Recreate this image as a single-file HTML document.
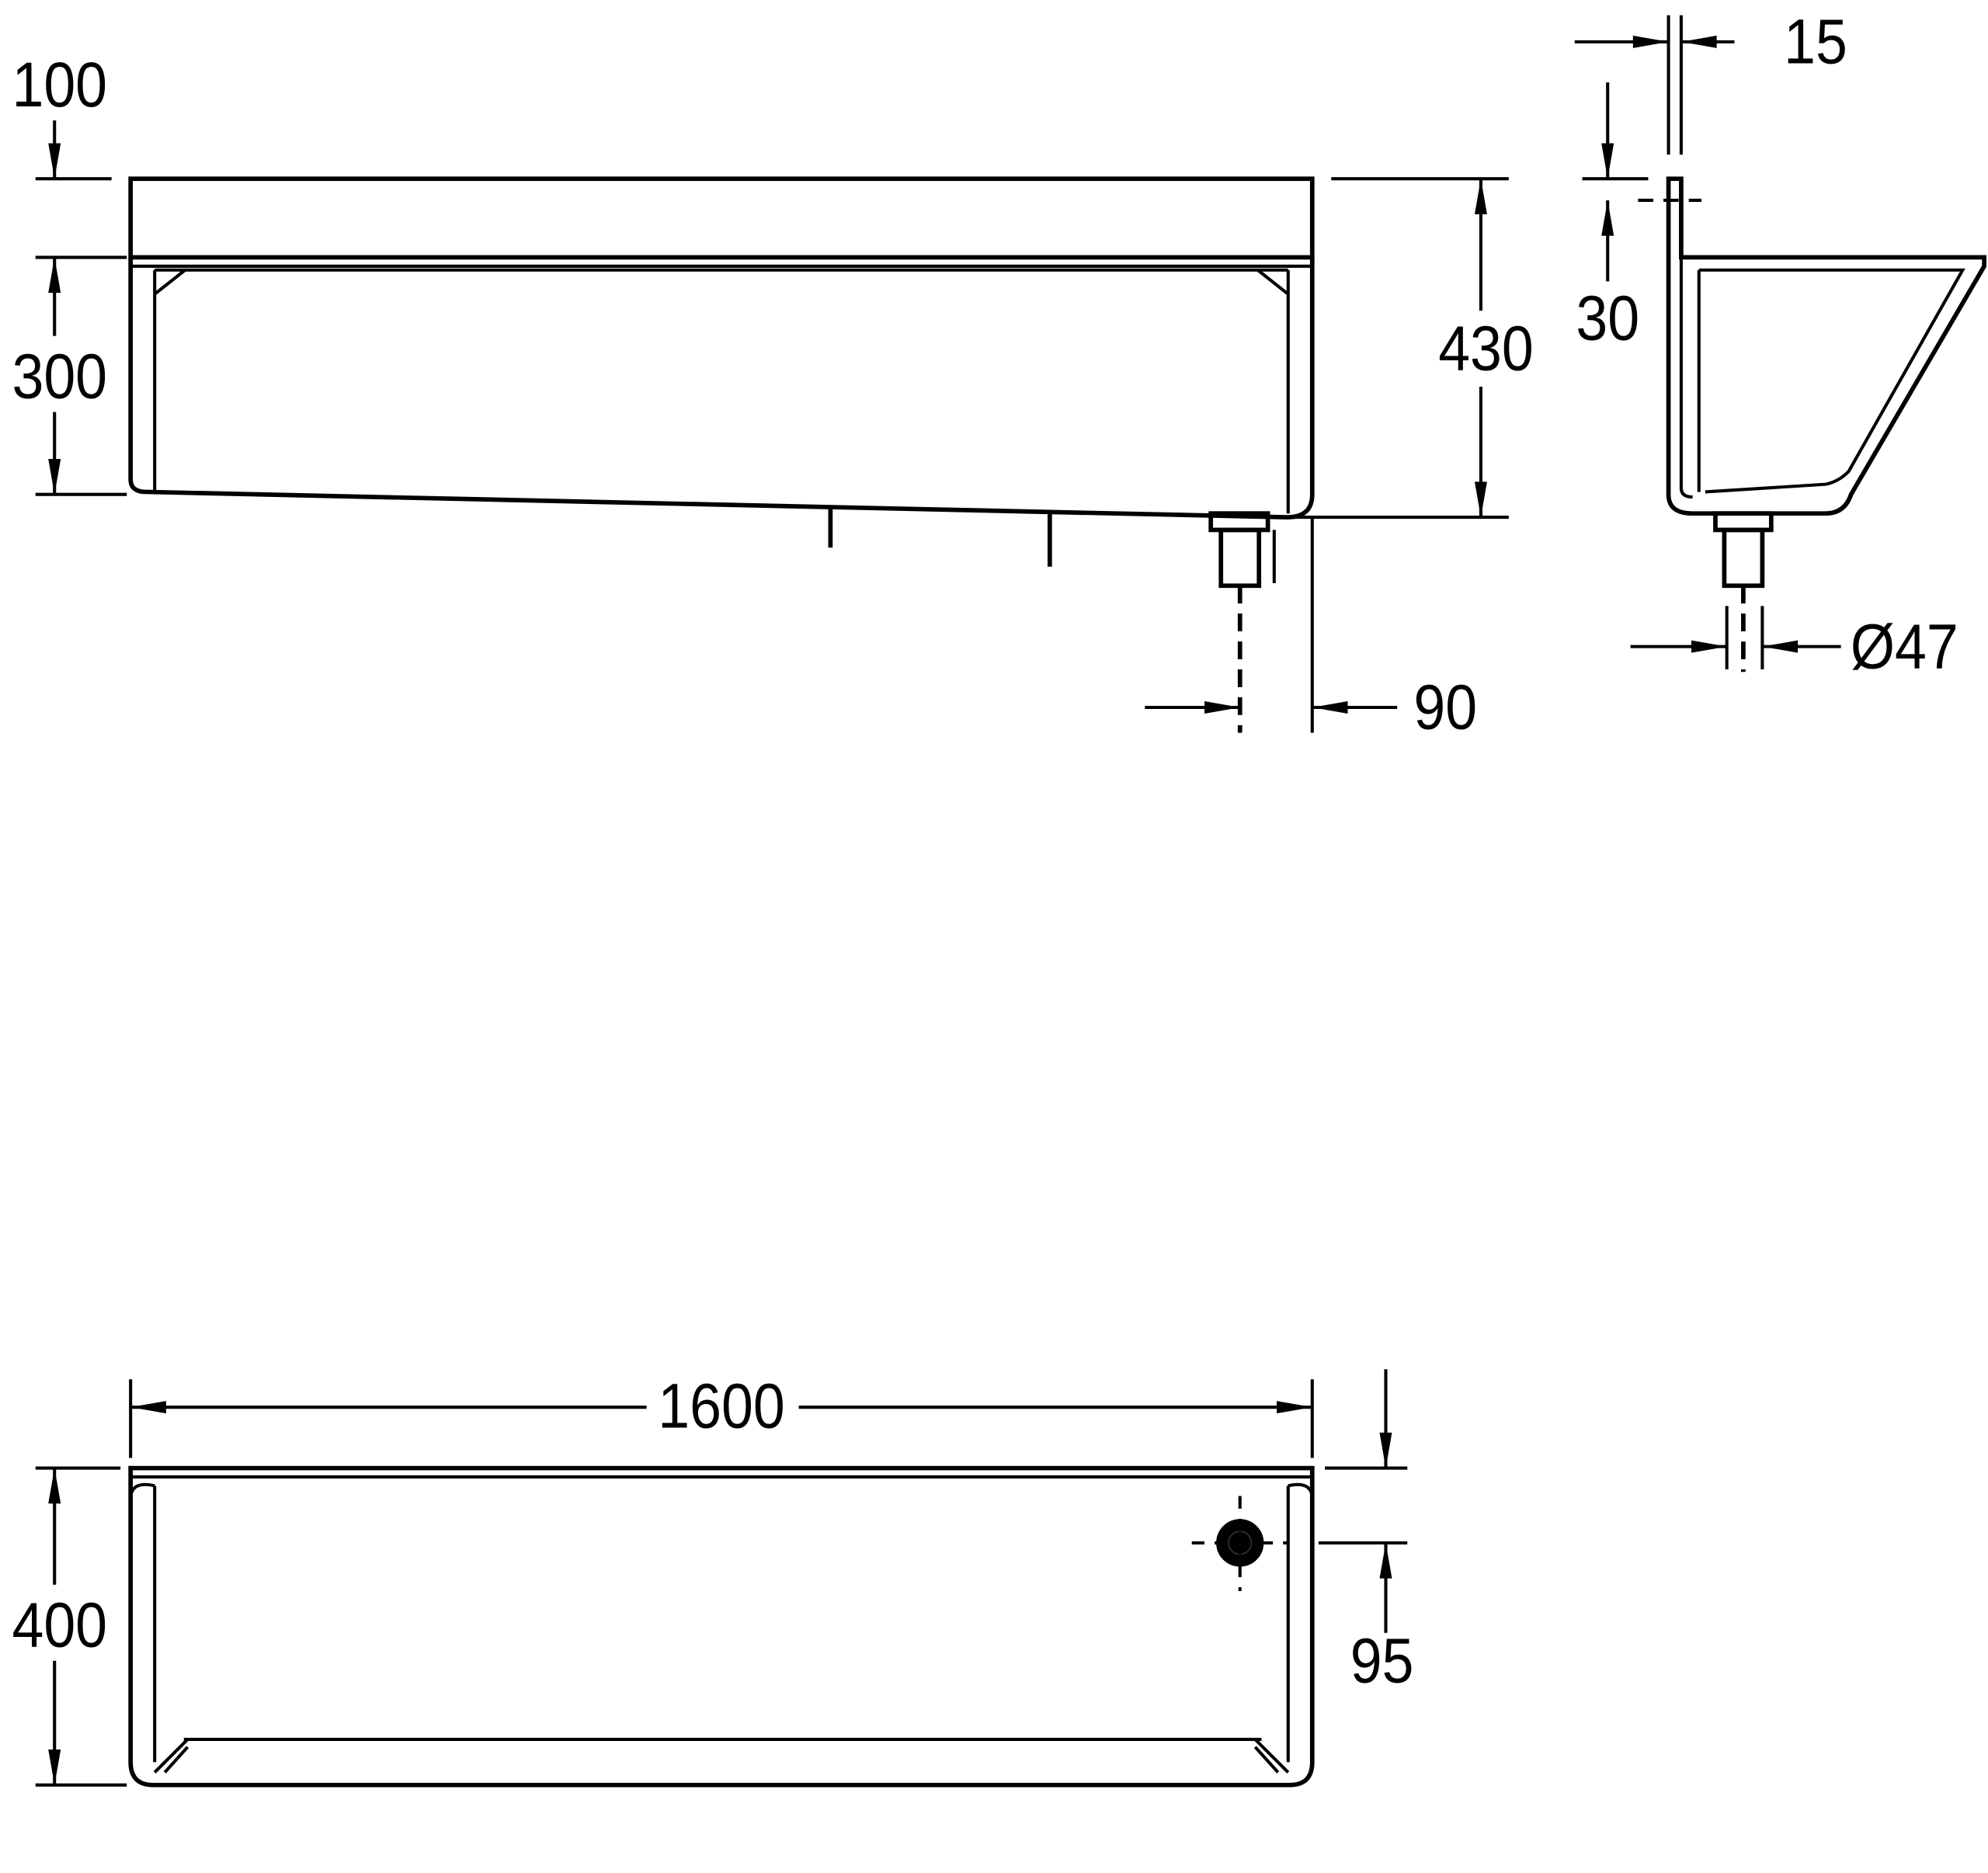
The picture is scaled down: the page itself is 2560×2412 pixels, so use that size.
<!DOCTYPE html>
<html><head><meta charset="utf-8"><style>
html,body{margin:0;padding:0;background:#fff;}
svg{display:block;}
text{font-family:"Liberation Sans",sans-serif;font-size:50px;fill:#000;}
</style></head><body>
<svg width="2560" height="2412" viewBox="0 0 1568 1477.4" preserveAspectRatio="none" xmlns="http://www.w3.org/2000/svg">
<defs>
<marker id="b" viewBox="0 0 20 10" refX="20" refY="5" markerWidth="34" markerHeight="14" markerUnits="userSpaceOnUse" orient="auto"><path d="M0,1.5 L20,5 L0,8.5 z" fill="#000"/></marker>
</defs>
<g fill="none" stroke="#000" stroke-width="3.5">
<!-- FRONT VIEW -->
<rect x="103" y="141" width="932" height="62"/>
<line x1="103" y1="210" x2="1035" y2="210" stroke-width="2.5"/>
<line x1="122" y1="213" x2="1016" y2="213" stroke-width="2.5"/>
<path d="M103,203 V378 Q103,388 115,388 L1015,408 Q1035,408 1035,390 V203"/>
<line x1="122" y1="213" x2="122" y2="388" stroke-width="2.5"/>
<line x1="1016" y1="213" x2="1016" y2="405" stroke-width="2.5"/>
<path d="M122,232 L146,213 M1016,232 L992,213" stroke-width="2.5"/>
<line x1="655" y1="400" x2="655" y2="432"/>
<line x1="828" y1="404" x2="828" y2="447"/>
<rect x="955" y="405" width="45" height="13"/>
<rect x="963" y="418" width="30" height="44"/>
<line x1="1005" y1="418" x2="1005" y2="460" stroke-width="2.5"/>
<line x1="978" y1="462" x2="978" y2="578" stroke-dasharray="14,8"/>
<line x1="1035" y1="408" x2="1035" y2="578" stroke-width="2.5"/>
<!-- dims front -->
<line x1="28" y1="141" x2="88" y2="141" stroke-width="2.5"/>
<line x1="28" y1="390" x2="100" y2="390" stroke-width="2.5"/>
<line x1="28" y1="203" x2="100" y2="203" stroke-width="2.5"/>
<line x1="43" y1="95" x2="43" y2="141" marker-end="url(#b)" stroke-width="2.5"/>
<line x1="43" y1="265" x2="43" y2="203" marker-end="url(#b)" stroke-width="2.5"/>
<line x1="43" y1="325" x2="43" y2="390" marker-end="url(#b)" stroke-width="2.5"/>
<line x1="1050" y1="141" x2="1190" y2="141" stroke-width="2.5"/>
<line x1="1020" y1="408" x2="1190" y2="408" stroke-width="2.5"/>
<line x1="1168" y1="245" x2="1168" y2="141" marker-end="url(#b)" stroke-width="2.5"/>
<line x1="1168" y1="305" x2="1168" y2="408" marker-end="url(#b)" stroke-width="2.5"/>
<line x1="903" y1="558" x2="978" y2="558" marker-end="url(#b)" stroke-width="2.5"/>
<line x1="1102" y1="558" x2="1035" y2="558" marker-end="url(#b)" stroke-width="2.5"/>
<!-- SIDE VIEW -->
<path d="M1316,141 H1326 V203 H1565 L1565,210 L1460,390 Q1455,405 1440,405 L1335,405 Q1316,405 1316,390 Z"/>
<path d="M1326,203 V385 Q1326,392 1335,392" stroke-width="2.5"/>
<path d="M1340,213 H1548 L1458,372 Q1450,380 1440,382 L1345,388" stroke-width="2.5"/>
<line x1="1340" y1="213" x2="1340" y2="388" stroke-width="2.5"/>
<rect x="1353" y="405" width="44" height="13"/>
<rect x="1360" y="418" width="30" height="44"/>
<line x1="1375" y1="462" x2="1375" y2="530" stroke-dasharray="14,8"/>
<line x1="1316" y1="12" x2="1316" y2="122" stroke-width="2.5"/>
<line x1="1326" y1="12" x2="1326" y2="122" stroke-width="2.5"/>
<line x1="1242" y1="33" x2="1316" y2="33" marker-end="url(#b)" stroke-width="2.5"/>
<line x1="1368" y1="33" x2="1326" y2="33" marker-end="url(#b)" stroke-width="2.5"/>
<line x1="1248" y1="141" x2="1300" y2="141" stroke-width="2.5"/>
<line x1="1292" y1="158" x2="1342" y2="158" stroke-dasharray="12,8" stroke-width="2.5"/>
<line x1="1268" y1="65" x2="1268" y2="141" marker-end="url(#b)" stroke-width="2.5"/>
<line x1="1268" y1="222" x2="1268" y2="158" marker-end="url(#b)" stroke-width="2.5"/>
<line x1="1362" y1="478" x2="1362" y2="528" stroke-width="2.5"/>
<line x1="1390" y1="478" x2="1390" y2="528" stroke-width="2.5"/>
<line x1="1286" y1="510" x2="1362" y2="510" marker-end="url(#b)" stroke-width="2.5"/>
<line x1="1452" y1="510" x2="1390" y2="510" marker-end="url(#b)" stroke-width="2.5"/>
<!-- PLAN VIEW -->
<path d="M103,1158 H1035 V1390 Q1035,1408 1017,1408 H121 Q103,1408 103,1390 Z"/>
<path d="M103,1165 H1035" stroke-width="2.5"/>
<path d="M122,1172 V1390 M1016,1172 V1390" stroke-width="2.5"/>
<path d="M103,1180 Q105,1168 122,1172 M1035,1180 Q1033,1168 1016,1172" stroke-width="2.5"/>
<line x1="145" y1="1372" x2="995" y2="1372" stroke-width="2.5"/>
<path d="M122,1398 L148,1372 M1016,1398 L990,1372 M130,1398 L148,1378 M1008,1398 L990,1378" stroke-width="2.5"/>
<circle cx="978" cy="1217" r="17" fill="#000"/>
<circle cx="978" cy="1217" r="9" stroke="#333" stroke-width="1"/>
<path d="M940,1217 H1016 M978,1180 V1255" stroke-dasharray="10,8" stroke-width="2.5"/>
<line x1="103" y1="1088" x2="103" y2="1150" stroke-width="2.5"/>
<line x1="1035" y1="1088" x2="1035" y2="1150" stroke-width="2.5"/>
<line x1="510" y1="1110" x2="103" y2="1110" marker-end="url(#b)" stroke-width="2.5"/>
<line x1="630" y1="1110" x2="1035" y2="1110" marker-end="url(#b)" stroke-width="2.5"/>
<line x1="28" y1="1158" x2="95" y2="1158" stroke-width="2.5"/>
<line x1="28" y1="1408" x2="100" y2="1408" stroke-width="2.5"/>
<line x1="43" y1="1250" x2="43" y2="1158" marker-end="url(#b)" stroke-width="2.5"/>
<line x1="43" y1="1310" x2="43" y2="1408" marker-end="url(#b)" stroke-width="2.5"/>
<line x1="1045" y1="1158" x2="1110" y2="1158" stroke-width="2.5"/>
<line x1="1040" y1="1217" x2="1110" y2="1217" stroke-width="2.5"/>
<line x1="1093" y1="1080" x2="1093" y2="1158" marker-end="url(#b)" stroke-width="2.5"/>
<line x1="1093" y1="1288" x2="1093" y2="1217" marker-end="url(#b)" stroke-width="2.5"/>
</g>
<g>
<text transform="translate(47,84) scale(0.9,1)" text-anchor="middle">100</text>
<text transform="translate(47,314) scale(0.9,1)" text-anchor="middle">300</text>
<text transform="translate(1172,292) scale(0.9,1)" text-anchor="middle">430</text>
<text transform="translate(1140,575) scale(0.9,1)" text-anchor="middle">90</text>
<text transform="translate(1432,50) scale(0.9,1)" text-anchor="middle">15</text>
<text transform="translate(1268,268) scale(0.9,1)" text-anchor="middle">30</text>
<text transform="translate(1502,527) scale(0.9,1)" text-anchor="middle">Ø47</text>
<text transform="translate(569,1126) scale(0.9,1)" text-anchor="middle">1600</text>
<text transform="translate(47,1299) scale(0.9,1)" text-anchor="middle">400</text>
<text transform="translate(1090,1327) scale(0.9,1)" text-anchor="middle">95</text>
</g>
</svg>
</body></html>
